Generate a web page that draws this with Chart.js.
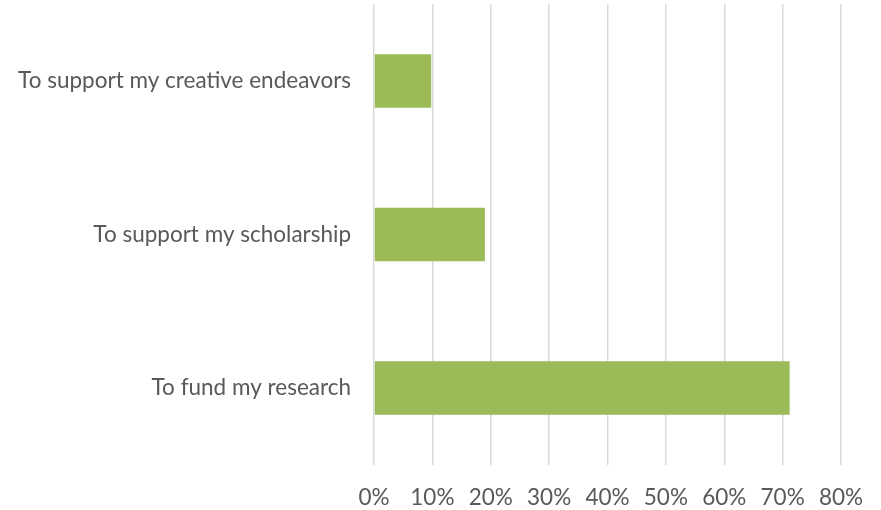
<!DOCTYPE html>
<html>
<head>
<meta charset="utf-8">
<script src="https://cdn.jsdelivr.net/npm/chart.js@4"></script>
<style>
html,body{margin:0;padding:0;background:#fff;}
#wrap{width:881px;height:510px;position:relative;}
</style>
</head>
<body>
<div id="wrap"><canvas id="c" width="881" height="510"></canvas></div>
<script>
const categories = ["To support my creative endeavors", "To support my scholarship", "To fund my research"];
const values = [9.8, 19.0, 71.2];
const tickValues = [0, 10, 20, 30, 40, 50, 60, 70, 80];

const FONT = "Lato";
const FSIZE = 22.5;
new Chart(document.getElementById('c'), {
  type: 'bar',
  data: {
    labels: categories,
    datasets: [{
      data: values,
      backgroundColor: '#9BBB59',
      borderWidth: 0,
      barPercentage: 0.35 / 0.8,
      categoryPercentage: 0.8
    }]
  },
  options: {
    indexAxis: 'y',
    responsive: false,
    animation: false,
    devicePixelRatio: 1,
    layout: { padding: { top: 4.25, right: 40, bottom: 0, left: 0 } },
    plugins: { legend: { display: false }, tooltip: { enabled: false } },
    scales: {
      x: {
        min: 0, max: 80,
        afterBuildTicks: s => { s.ticks = tickValues.map(v => ({ value: v })); },
        afterFit: s => { s.height = 45.25; s.paddingLeft = 0; s.paddingRight = 0; },
        grid: { color: '#d9d9d9', lineWidth: 1.5, drawTicks: false },
        border: { display: false },
        ticks: {
          padding: 19,
          color: '#595959',
          font: { family: FONT, size: FSIZE },
          callback: v => v + '%'
        }
      },
      y: {
        afterFit: s => { s.width = 374; s.paddingTop = 0; s.paddingBottom = 0; },
        grid: { display: false, drawTicks: false },
        border: { display: false },
        ticks: {
          padding: 23,
          color: '#595959',
          font: { family: FONT, size: FSIZE }
        }
      }
    }
  }
});
</script>
</body>
</html>
